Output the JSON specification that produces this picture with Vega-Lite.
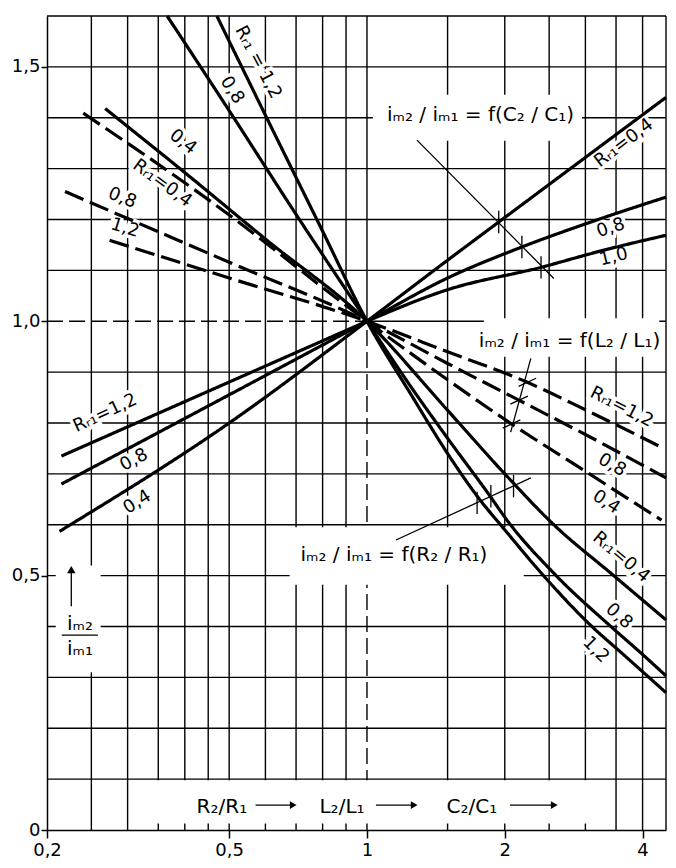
{
  "$schema": "https://vega.github.io/schema/vega-lite/v6.json",
  "width": 619,
  "height": 814,
  "autosize": {"type": "none"},
  "padding": {"left": 47, "top": 16, "right": 10, "bottom": 38},
  "background": "white",
  "config": {
    "view": {"stroke": null},
    "font": "DejaVu Sans",
    "text": {"font": "DejaVu Sans"}
  },
  "datasets": {
    "vlines": [
      {"x": 0.25}, {"x": 0.3}, {"x": 0.35}, {"x": 0.4}, {"x": 0.45}, {"x": 0.5},
      {"x": 0.6}, {"x": 0.7}, {"x": 0.8}, {"x": 0.9}, {"x": 1.5}, {"x": 2},
      {"x": 2.5}, {"x": 3}, {"x": 3.5}, {"x": 4}, {"x": 4.5}
    ],
    "hlines": [
      {"y": 0.1}, {"y": 0.2}, {"y": 0.3}, {"y": 0.4}, {"y": 0.5}, {"y": 0.6},
      {"y": 0.7}, {"y": 0.8}, {"y": 0.9}, {"y": 1.1}, {"y": 1.2}, {"y": 1.3},
      {"y": 1.4}, {"y": 1.5}, {"y": 1.6}
    ],
    "segs": [
      {"x": 1, "y": 1, "x2": 1, "y2": 1.6},
      {"x": 1, "y": 1, "x2": 4.5, "y2": 1}
    ],
    "dashedsegs": [
      {"x": 1, "y": 0, "x2": 1, "y2": 1},
      {"x": 0.2, "y": 1, "x2": 1, "y2": 1}
    ],
    "boxes": [
      {"x": 1.03, "x2": 2.95, "y": 1.355, "y2": 1.445},
      {"x": 1.8, "x2": 4.35, "y": 0.93, "y2": 1.006},
      {"x": 0.678, "x2": 2.2, "y": 0.482, "y2": 0.595},
      {"x": 0.209, "x2": 0.262, "y": 0.31, "y2": 0.52},
      {"x": 0.306, "x2": 3.44, "y": 0.013, "y2": 0.098}
    ],
    "curves": [
      {"grp": "R", "series": "R 1,2", "x": 0.47, "y": 1.6},
      {"grp": "R", "series": "R 1,2", "x": 0.6, "y": 1.405},
      {"grp": "R", "series": "R 1,2", "x": 0.8, "y": 1.177},
      {"grp": "R", "series": "R 1,2", "x": 1, "y": 1},
      {"grp": "R", "series": "R 1,2", "x": 1.25, "y": 0.855},
      {"grp": "R", "series": "R 1,2", "x": 1.5, "y": 0.74},
      {"grp": "R", "series": "R 1,2", "x": 1.755, "y": 0.652},
      {"grp": "R", "series": "R 1,2", "x": 2.0, "y": 0.59},
      {"grp": "R", "series": "R 1,2", "x": 2.43, "y": 0.5},
      {"grp": "R", "series": "R 1,2", "x": 3.1, "y": 0.4},
      {"grp": "R", "series": "R 1,2", "x": 3.6, "y": 0.348},
      {"grp": "R", "series": "R 1,2", "x": 4.13, "y": 0.3},
      {"grp": "R", "series": "R 1,2", "x": 4.5, "y": 0.27},

      {"grp": "R", "series": "R 0,8", "x": 0.366, "y": 1.6},
      {"grp": "R", "series": "R 0,8", "x": 0.5, "y": 1.414},
      {"grp": "R", "series": "R 0,8", "x": 0.7, "y": 1.21},
      {"grp": "R", "series": "R 0,8", "x": 1, "y": 1},
      {"grp": "R", "series": "R 0,8", "x": 1.25, "y": 0.87},
      {"grp": "R", "series": "R 0,8", "x": 1.5, "y": 0.77},
      {"grp": "R", "series": "R 0,8", "x": 1.865, "y": 0.654},
      {"grp": "R", "series": "R 0,8", "x": 2.0, "y": 0.615},
      {"grp": "R", "series": "R 0,8", "x": 2.59, "y": 0.5},
      {"grp": "R", "series": "R 0,8", "x": 3.41, "y": 0.4},
      {"grp": "R", "series": "R 0,8", "x": 4.0, "y": 0.345},
      {"grp": "R", "series": "R 0,8", "x": 4.5, "y": 0.303},

      {"grp": "R", "series": "R 0,4", "x": 0.268, "y": 1.418},
      {"grp": "R", "series": "R 0,4", "x": 0.394, "y": 1.297},
      {"grp": "R", "series": "R 0,4", "x": 0.605, "y": 1.159},
      {"grp": "R", "series": "R 0,4", "x": 1, "y": 1},
      {"grp": "R", "series": "R 0,4", "x": 1.5, "y": 0.825},
      {"grp": "R", "series": "R 0,4", "x": 2.0, "y": 0.70},
      {"grp": "R", "series": "R 0,4", "x": 2.56, "y": 0.6},
      {"grp": "R", "series": "R 0,4", "x": 3.46, "y": 0.5},
      {"grp": "R", "series": "R 0,4", "x": 4.5, "y": 0.413},

      {"grp": "L", "series": "L 1,2", "x": 0.274, "y": 1.159},
      {"grp": "L", "series": "L 1,2", "x": 0.5, "y": 1.085},
      {"grp": "L", "series": "L 1,2", "x": 1, "y": 1},
      {"grp": "L", "series": "L 1,2", "x": 1.5, "y": 0.94},
      {"grp": "L", "series": "L 1,2", "x": 2.24, "y": 0.88},
      {"grp": "L", "series": "L 1,2", "x": 3.0, "y": 0.826},
      {"grp": "L", "series": "L 1,2", "x": 4.45, "y": 0.75},

      {"grp": "L", "series": "L 0,8", "x": 0.219, "y": 1.255},
      {"grp": "L", "series": "L 0,8", "x": 0.5, "y": 1.116},
      {"grp": "L", "series": "L 0,8", "x": 1, "y": 1},
      {"grp": "L", "series": "L 0,8", "x": 1.5, "y": 0.917},
      {"grp": "L", "series": "L 0,8", "x": 2.146, "y": 0.845},
      {"grp": "L", "series": "L 0,8", "x": 3.2, "y": 0.764},
      {"grp": "L", "series": "L 0,8", "x": 4.5, "y": 0.692},

      {"grp": "L", "series": "L 0,4", "x": 0.24, "y": 1.409},
      {"grp": "L", "series": "L 0,4", "x": 0.46, "y": 1.233},
      {"grp": "L", "series": "L 0,4", "x": 1, "y": 1},
      {"grp": "L", "series": "L 0,4", "x": 1.5, "y": 0.885},
      {"grp": "L", "series": "L 0,4", "x": 2.07, "y": 0.798},
      {"grp": "L", "series": "L 0,4", "x": 3.0, "y": 0.705},
      {"grp": "L", "series": "L 0,4", "x": 4.4, "y": 0.609},

      {"grp": "C", "series": "C 0,4", "x": 0.213, "y": 0.587},
      {"grp": "C", "series": "C 0,4", "x": 0.5, "y": 0.80},
      {"grp": "C", "series": "C 0,4", "x": 1, "y": 1},
      {"grp": "C", "series": "C 0,4", "x": 1.5, "y": 1.12},
      {"grp": "C", "series": "C 0,4", "x": 1.94, "y": 1.195},
      {"grp": "C", "series": "C 0,4", "x": 3.0, "y": 1.322},
      {"grp": "C", "series": "C 0,4", "x": 4.5, "y": 1.44},

      {"grp": "C", "series": "C 0,8", "x": 0.215, "y": 0.68},
      {"grp": "C", "series": "C 0,8", "x": 1, "y": 1},
      {"grp": "C", "series": "C 0,8", "x": 1.5, "y": 1.085},
      {"grp": "C", "series": "C 0,8", "x": 2.18, "y": 1.146},
      {"grp": "C", "series": "C 0,8", "x": 3.2, "y": 1.2},
      {"grp": "C", "series": "C 0,8", "x": 4.5, "y": 1.244},

      {"grp": "C", "series": "C 1,0", "x": 1, "y": 1},
      {"grp": "C", "series": "C 1,0", "x": 1.5, "y": 1.062},
      {"grp": "C", "series": "C 1,0", "x": 2.4, "y": 1.106},
      {"grp": "C", "series": "C 1,0", "x": 3.3, "y": 1.14},
      {"grp": "C", "series": "C 1,0", "x": 4.5, "y": 1.169},

      {"grp": "C", "series": "C 1,2", "x": 0.215, "y": 0.735},
      {"grp": "C", "series": "C 1,2", "x": 1, "y": 1}
    ],
    "leaders": [
      {"x": 1.286, "y": 1.356, "x2": 2.56, "y2": 1.084},
      {"x": 1.94, "y": 1.173, "x2": 1.94, "y2": 1.217},
      {"x": 2.18, "y": 1.124, "x2": 2.18, "y2": 1.168},
      {"x": 2.4, "y": 1.084, "x2": 2.4, "y2": 1.128},
      {"x": 2.28, "y": 0.927, "x2": 2.06, "y2": 0.782},
      {"x": 2.144, "y": 0.872, "x2": 2.341, "y2": 0.888},
      {"x": 2.057, "y": 0.837, "x2": 2.247, "y2": 0.853},
      {"x": 1.98, "y": 0.79, "x2": 2.163, "y2": 0.806},
      {"x": 1.157, "y": 0.57, "x2": 2.28, "y2": 0.692},
      {"x": 1.74, "y": 0.621, "x2": 1.74, "y2": 0.665},
      {"x": 1.865, "y": 0.634, "x2": 1.865, "y2": 0.678},
      {"x": 2.09, "y": 0.654, "x2": 2.09, "y2": 0.698},
      {"x": 0.2154, "y": 0.383, "x2": 0.2583, "y2": 0.383},
      {"x": 0.226, "y": 0.44, "x2": 0.226, "y2": 0.505},
      {"x": 0.571, "y": 0.049, "x2": 0.69, "y2": 0.049},
      {"x": 1.046, "y": 0.049, "x2": 1.268, "y2": 0.049},
      {"x": 2.052, "y": 0.049, "x2": 2.565, "y2": 0.049}
    ],
    "arrowup": [
      {"x": 0.226, "y": 0.512}
    ],
    "arrowright": [
      {"x": 0.69, "y": 0.049},
      {"x": 1.268, "y": 0.049},
      {"x": 2.565, "y": 0.049}
    ],
    "biglabels": [
      {"t": "iₘ₂ / iₘ₁ = f(C₂ / C₁)", "x": 1.77, "y": 1.405},
      {"t": "iₘ₂ / iₘ₁ = f(L₂ / L₁)", "x": 2.77, "y": 0.962},
      {"t": "iₘ₂ / iₘ₁ = f(R₂ / R₁)", "x": 1.145, "y": 0.54},
      {"t": "R₂/R₁", "x": 0.482, "y": 0.045},
      {"t": "L₂/L₁", "x": 0.882, "y": 0.045},
      {"t": "C₂/C₁", "x": 1.695, "y": 0.045},
      {"t": "iₘ₂", "x": 0.236, "y": 0.405},
      {"t": "iₘ₁", "x": 0.236, "y": 0.355}
    ],
    "curvelabels": [
      {"t": "Rᵣ₁ = 1,2", "x": 0.578, "y": 1.509, "a": 62},
      {"t": "0,8", "x": 0.507, "y": 1.454, "a": 58},
      {"t": "0,4", "x": 0.396, "y": 1.352, "a": 38},
      {"t": "Rᵣ₁=0,4", "x": 0.357, "y": 1.271, "a": 36},
      {"t": "0,8", "x": 0.292, "y": 1.242, "a": 22},
      {"t": "1,2", "x": 0.296, "y": 1.183, "a": 17},
      {"t": "Rᵣ₁=1,2", "x": 0.268, "y": 0.819, "a": -25},
      {"t": "0,8", "x": 0.31, "y": 0.727, "a": -28},
      {"t": "0,4", "x": 0.315, "y": 0.644, "a": -32},
      {"t": "Rᵣ₁=0,4", "x": 3.64, "y": 1.35, "a": -37},
      {"t": "0,8", "x": 3.41, "y": 1.183, "a": -18},
      {"t": "1,0", "x": 3.46, "y": 1.126, "a": -14},
      {"t": "Rᵣ₁=1,2", "x": 3.6, "y": 0.831, "a": 27},
      {"t": "0,8", "x": 3.43, "y": 0.717, "a": 30},
      {"t": "0,4", "x": 3.33, "y": 0.644, "a": 33},
      {"t": "Rᵣ₁=0,4", "x": 3.59, "y": 0.536, "a": 40},
      {"t": "0,8", "x": 3.55, "y": 0.42, "a": 42},
      {"t": "1,2", "x": 3.16, "y": 0.354, "a": 45}
    ]
  },
  "layer": [
    {
      "data": {"name": "vlines"},
      "mark": {"type": "rule", "color": "black", "strokeWidth": 1.4},
      "encoding": {
        "x": {
          "field": "x", "type": "quantitative", "title": null,
          "scale": {"type": "log", "domain": [0.2, 4.5], "nice": false, "zero": false},
          "axis": {
            "values": [0.2, 0.5, 1, 2, 4],
            "labelExpr": "replace(toString(datum.value), '.', ',')",
            "grid": false, "tickSize": 8, "tickWidth": 1.5, "tickColor": "black",
            "domainColor": "black", "domainWidth": 1.5,
            "labelFontSize": 18, "labelColor": "black", "labelPadding": 3,
            "labelFlush": false, "labelOverlap": false, "labelFont": "DejaVu Sans"
          }
        }
      }
    },
    {
      "data": {"name": "hlines"},
      "mark": {"type": "rule", "color": "black", "strokeWidth": 1.4},
      "encoding": {
        "y": {
          "field": "y", "type": "quantitative", "title": null,
          "scale": {"domain": [0, 1.6], "nice": false, "zero": true},
          "axis": {
            "values": [0, 0.5, 1, 1.5],
            "labelExpr": "datum.value == 0 ? '0' : replace(format(datum.value, '.1f'), '.', ',')",
            "grid": false, "tickSize": 6, "tickWidth": 1.5, "tickColor": "black",
            "domainColor": "black", "domainWidth": 1.5,
            "labelFontSize": 18, "labelColor": "black", "labelPadding": 1,
            "labelFlush": false, "labelOverlap": false, "labelFont": "DejaVu Sans"
          }
        }
      }
    },
    {
      "data": {"name": "segs"},
      "mark": {"type": "rule", "color": "black", "strokeWidth": 1.4},
      "encoding": {
        "x": {"field": "x", "type": "quantitative", "title": null},
        "x2": {"field": "x2"},
        "y": {"field": "y", "type": "quantitative", "title": null},
        "y2": {"field": "y2"}
      }
    },
    {
      "data": {"name": "dashedsegs"},
      "mark": {"type": "rule", "color": "black", "strokeWidth": 1.4, "strokeDash": [16, 6]},
      "encoding": {
        "x": {"field": "x", "type": "quantitative", "title": null},
        "x2": {"field": "x2"},
        "y": {"field": "y", "type": "quantitative", "title": null},
        "y2": {"field": "y2"}
      }
    },
    {
      "data": {"name": "boxes"},
      "mark": {"type": "rect", "color": "white"},
      "encoding": {
        "x": {"field": "x", "type": "quantitative", "title": null},
        "x2": {"field": "x2"},
        "y": {"field": "y", "type": "quantitative", "title": null},
        "y2": {"field": "y2"}
      }
    },
    {
      "data": {"name": "curvelabels"},
      "mark": {"type": "text", "fontSize": 18, "fill": "white", "stroke": "white", "strokeWidth": 7, "align": "center", "baseline": "middle"},
      "encoding": {
        "x": {"field": "x", "type": "quantitative", "title": null},
        "y": {"field": "y", "type": "quantitative", "title": null},
        "text": {"field": "t"},
        "angle": {"field": "a", "type": "quantitative", "scale": null}
      }
    },
    {
      "data": {"name": "curves"},
      "mark": {"type": "line", "color": "black", "strokeWidth": 3.2, "interpolate": "monotone"},
      "encoding": {
        "x": {"field": "x", "type": "quantitative", "title": null},
        "y": {"field": "y", "type": "quantitative", "title": null},
        "detail": {"field": "series"},
        "strokeDash": {
          "field": "grp", "type": "nominal", "legend": null,
          "scale": {"domain": ["R", "L", "C"], "range": [[1, 0], [20, 7], [1, 0]]}
        }
      }
    },
    {
      "data": {"name": "leaders"},
      "mark": {"type": "rule", "color": "black", "strokeWidth": 1.3},
      "encoding": {
        "x": {"field": "x", "type": "quantitative", "title": null},
        "x2": {"field": "x2"},
        "y": {"field": "y", "type": "quantitative", "title": null},
        "y2": {"field": "y2"}
      }
    },
    {
      "data": {"name": "arrowup"},
      "mark": {"type": "point", "shape": "triangle-up", "filled": true, "color": "black", "size": 70, "opacity": 1},
      "encoding": {
        "x": {"field": "x", "type": "quantitative", "title": null},
        "y": {"field": "y", "type": "quantitative", "title": null}
      }
    },
    {
      "data": {"name": "arrowright"},
      "mark": {"type": "point", "shape": "triangle-right", "filled": true, "color": "black", "size": 60, "opacity": 1},
      "encoding": {
        "x": {"field": "x", "type": "quantitative", "title": null},
        "y": {"field": "y", "type": "quantitative", "title": null}
      }
    },
    {
      "data": {"name": "curvelabels"},
      "mark": {"type": "text", "fontSize": 18, "color": "black", "align": "center", "baseline": "middle"},
      "encoding": {
        "x": {"field": "x", "type": "quantitative", "title": null},
        "y": {"field": "y", "type": "quantitative", "title": null},
        "text": {"field": "t"},
        "angle": {"field": "a", "type": "quantitative", "scale": null}
      }
    },
    {
      "data": {"name": "biglabels"},
      "mark": {"type": "text", "fontSize": 20, "color": "black", "align": "center", "baseline": "middle"},
      "encoding": {
        "x": {"field": "x", "type": "quantitative", "title": null},
        "y": {"field": "y", "type": "quantitative", "title": null},
        "text": {"field": "t"}
      }
    }
  ]
}
